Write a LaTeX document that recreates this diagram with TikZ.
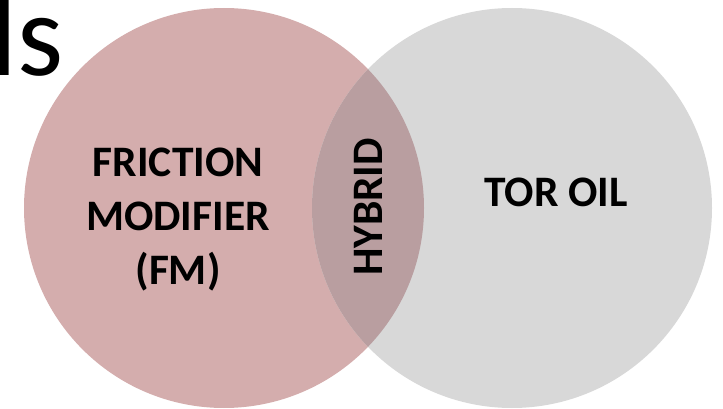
\documentclass[tikz,border=0pt]{standalone}
\usepackage{fontspec}
\setmainfont{Carlito}
\definecolor{fmrose}{RGB}{212,173,173}
\definecolor{torgrey}{RGB}{216,216,216}
\definecolor{hybridmix}{RGB}{185,158,160}
\tikzset{
  setlabel/.style={align=center, inner sep=0pt, font=\bfseries\fontsize{43.5}{54}\selectfont},
}
\begin{document}
\begin{tikzpicture}[x=1pt,y=-1pt]
	\useasboundingbox (0,0) rectangle (723,409);
	\clip (0,0) rectangle (723,409);
	\fill[fmrose] (224,208) circle (200pt);
	\fill[torgrey] (512,208) circle (200pt);
	\begin{scope}
		\clip (224,208) circle (200pt);
		\fill[hybridmix] (512,208) circle (200pt);
	\end{scope}
	\node[anchor=base west, inner sep=0pt, font=\fontsize{118}{118}\selectfont] (title) at (-10,76) {ls};
	\node[setlabel] (fm) at (178,220) {FRICTION\\MODIFIER\\(FM)};
	\node[setlabel] (tor) at (556,192) {TOR OIL};
	\node[setlabel, rotate=90] (hybrid) at (368,207) {HYBRID};
\end{tikzpicture}
\end{document}
